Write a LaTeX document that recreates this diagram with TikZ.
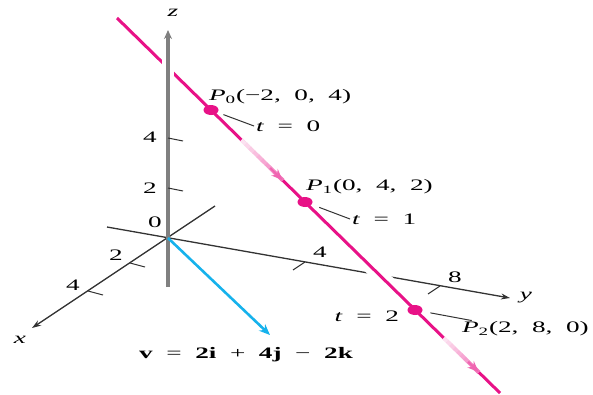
\documentclass[tikz,border=0pt]{standalone}
\usetikzlibrary{arrows.meta, calc}
\usepackage{xcolor}
\usepackage{fontspec}
\setmainfont{Liberation Serif}
\definecolor{linepink}{RGB}{232,18,135}
\definecolor{vecblue}{RGB}{22,178,236}
\definecolor{axisgray}{RGB}{128,128,128}

\begin{document}
\begin{tikzpicture}[
    x=1pt, y=-1pt,
    lbl/.style={font=\fontsize{16}{19}\selectfont, xscale=1.7, transform shape, inner sep=1pt},
    axis/.style={draw=black!80, line width=1.3pt},
    tick/.style={draw=black!80, line width=1pt},
    leader/.style={draw=black!80, line width=1pt},
    dot/.style={circle, fill=linepink, minimum size=10pt, inner sep=0pt, xscale=1.5, transform shape},
    >={Stealth[length=9pt, width=6pt]}
  ]
    \useasboundingbox (0,0) rectangle (593,394);

    % frame points
    \coordinate (O) at (168,238);
    \coordinate (zbot) at (168,287);
    \coordinate (ztop) at (168,30);
    \coordinate (xback) at (215,206);
    \coordinate (xtip) at (32,328);
    \coordinate (yback) at (107,227);
    \coordinate (ytip) at (510,298);
    \coordinate (ltop) at (117,18);
    \coordinate (lbot) at (500,393);
    \coordinate (vtip) at (270,335);

    % ---- x and y axes ----
    \draw[axis,->] (xback) -- (xtip);
    \draw[axis,->] (yback) -- (ytip);
    \draw[tick] (130,263) -- +(15,4);
    \draw[tick] (88,291) -- +(15,4);
    \draw[tick] (305,262) -- +(-12,8);
    \draw[tick] (440,286) -- +(-12,8);
    \node[lbl] (x2) at (116,255) {2};
    \node[lbl] (x4) at (73,285) {4};
    \node[lbl] (y4) at (320,252) {4};
    \node[lbl] (y8) at (455,277) {8};
    \node[lbl] (xlbl) at (20,340) {\textit{x}};
    \node[lbl] (ylbl) at (526,298) {\textit{y}};

    % ---- the line ----
    \draw[linepink, line width=3pt, preaction={draw=white, line width=15pt}] (ltop) -- (lbot);

    % ---- z axis ----
    \draw[white, line width=12pt] (168,55) -- (168,82);
    \draw[axisgray, line width=3.2pt, -{Stealth[length=9pt, width=8pt]}] (zbot) -- (ztop);
    \draw[tick] (168,138) -- +(15,3);
    \draw[tick] (168,188) -- +(15,3);
    \node[lbl] (z4) at (150,137) {4};
    \node[lbl] (z2) at (150,188) {2};
    \node[lbl] (z0) at (155,222) {0};
    \node[lbl] (zlbl) at (173,13) {\textit{z}};

    % ---- direction arrows on the line ----
    \coordinate (fa1s) at ($(ltop)!0.325!(lbot)$);
    \coordinate (fa1e) at ($(ltop)!0.432!(lbot)$);
    \coordinate (fa2s) at ($(ltop)!0.853!(lbot)$);
    \coordinate (fa2e) at ($(ltop)!0.944!(lbot)$);
    \foreach \sa/\ea in {fa1s/fa1e, fa2s/fa2e}{
      \foreach \k in {0,...,9}{
        \pgfmathtruncatemacro{\shadepct}{12+5*\k}
        \draw[linepink!\shadepct, line width=4pt] ($(\sa)!\k*0.1!(\ea)$) -- ($(\sa)!\k*0.1+0.11!(\ea)$);
      }
      \draw[linepink!65, line width=2pt, -{Stealth[length=11pt, width=9pt]}] ($(\sa)!0.7!(\ea)$) -- (\ea);
    }

    % ---- vector v ----
    \draw[vecblue, line width=2.6pt, -{Stealth[length=11pt, width=9pt]}] (O) -- (vtip);
    \node[lbl] (vlbl) at (246,355) {\textbf{v}\enspace=\enspace\textbf{2i}\enspace+\enspace\textbf{4j}\enspace−\enspace\textbf{2k}};

    % ---- points ----
    \node[dot] (P0) at (211,110) {};
    \node[dot] (P1) at (305,202) {};
    \node[dot] (P2) at (415,310) {};

    \node[lbl, anchor=west] (P0lbl) at (207,97) {\textit{P}\textsubscript{0}(−2,\enspace0,\enspace4)};
    \node[lbl, anchor=west] (t0) at (254,126) {\textit{t}\enspace=\enspace0};
    \node[lbl, anchor=west] (P1lbl) at (304,187) {\textit{P}\textsubscript{1}(0,\enspace4,\enspace2)};
    \node[lbl, anchor=west] (t1) at (350,219) {\textit{t}\enspace=\enspace1};
    \node[lbl, anchor=east] (t2) at (401,316) {\textit{t}\enspace=\enspace2};
    \node[lbl, anchor=west] (P2lbl) at (460,329) {\textit{P}\textsubscript{2}(2,\enspace8,\enspace0)};

    \draw[leader, shorten <=6pt] (P0) -- (t0.west);
    \draw[leader, shorten <=8pt] (P1) -- (t1.west);
    \draw[leader, shorten <=8pt] (P2) -- (P2lbl.165);
\end{tikzpicture}
\end{document}
